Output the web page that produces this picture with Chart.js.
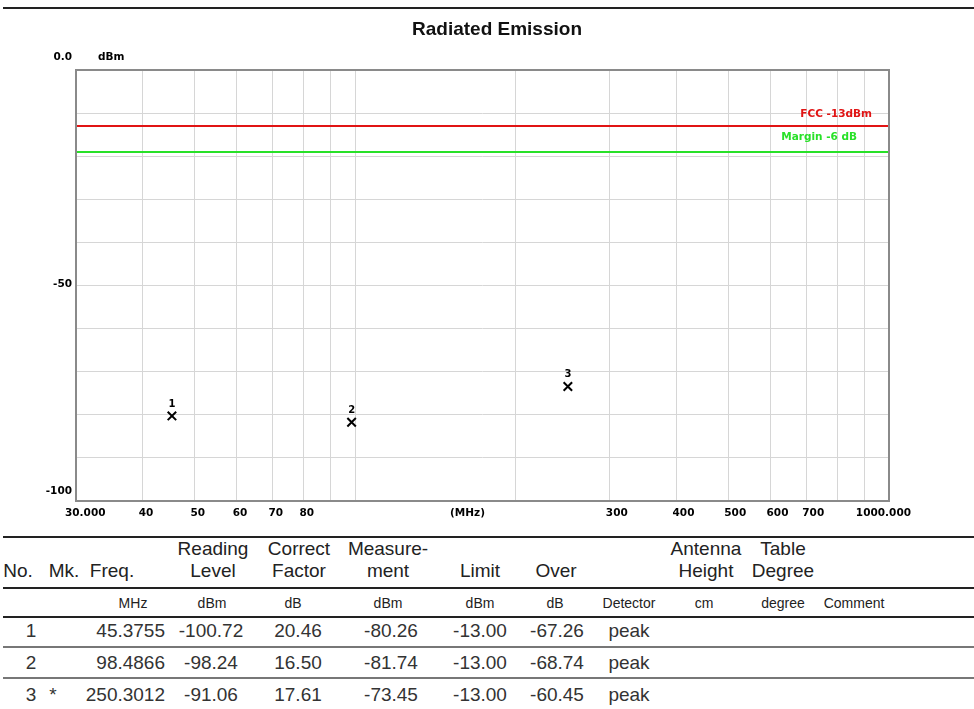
<!DOCTYPE html>
<html>
<head>
<meta charset="utf-8">
<script src="https://cdn.jsdelivr.net/npm/chart.js@4/dist/chart.umd.min.js"></script>
<style>
  body { margin: 0; background: #fff; }
  #page { position: relative; width: 974px; height: 709px; overflow: hidden; font-family: "Liberation Sans", Arial, sans-serif; }
  #topline { position: absolute; left: 3px; top: 7px; width: 971px; height: 2px; background: #222; }
  #myChart { position: absolute; left: 0; top: 0; }
  .rule { position: absolute; left: 3px; width: 971px; height: 2px; }
  .cell { position: absolute; white-space: nowrap; line-height: 22px; height: 22px; }
</style>
</head>
<body>
<div id="page">
  <div id="topline"></div>
  <canvas id="myChart" width="974" height="530"></canvas>
  <div id="table"></div>
</div>
<script>
const TITLE = 'Radiated Emission';

// markers
const markerNo = ['1', '2', '3'];
const markFlag = ['', '', '*'];
const freqs = [45.3755, 98.4866, 250.3012];
const readingLevel = [-100.72, -98.24, -91.06];
const correctFactor = [20.46, 16.50, 17.61];
const measurement = [-80.26, -81.74, -73.45];
const limitValues = [-13.00, -13.00, -13.00];
const overValues = [-67.26, -68.74, -60.45];
const detector = ['peak', 'peak', 'peak'];

// limit lines
const LIMIT = -13;
const MARGIN = -19;
const limitLabel = 'FCC -13dBm';
const marginLabel = 'Margin -6 dB';

// axes
const xGrid = [30, 40, 50, 60, 70, 80, 90, 100, 200, 300, 400, 500, 600, 700, 800, 900, 1000];
const xLabelValues = [30, 40, 50, 60, 70, 80, 300, 400, 500, 600, 700, 1000];
const xLabelTexts = ['30.000', '40', '50', '60', '70', '80', '300', '400', '500', '600', '700', '1000.000'];
const yLabelValues = [0, -50, -100];
const yLabelTexts = ['0.0', '-50', '-100'];

// table
const headers = [['', 'No.'], ['', 'Mk.'], ['', 'Freq.'], ['Reading', 'Level'], ['Correct', 'Factor'],
    ['Measure-', 'ment'], ['', 'Limit'], ['', 'Over'], ['', ''], ['Antenna', 'Height'], ['Table', 'Degree'], ['', '']];
const units = ['', '', 'MHz', 'dBm', 'dB', 'dBm', 'dBm', 'dB', 'Detector', 'cm', 'degree', 'Comment'];

const RED = 'rgb(225, 20, 20)';
const GREEN = 'rgb(40, 225, 40)';
const GRID = '#d6d6d6';
const AXIS_FONT = 'bold 10.5px "DejaVu Sans"';

const labelsPlugin = {
    id: 'labels',
    afterDraw(chart) {
        const c = chart.ctx;
        const a = chart.chartArea;
        const xs = chart.scales.x;
        const ys = chart.scales.y;
        c.save();
        // frame
        c.strokeStyle = '#8a8a8a';
        c.lineWidth = 2;
        c.strokeRect(a.left, a.top, a.right - a.left, a.bottom - a.top);

        // title
        c.fillStyle = '#111';
        c.font = 'bold 19px "Liberation Sans", Arial';
        c.textAlign = 'center';
        c.textBaseline = 'middle';
        c.fillText(TITLE, 497, 30);

        // y labels
        c.font = AXIS_FONT;
        c.fillStyle = '#000';
        c.textAlign = 'right';
        const yOff = [-13, -1, -10];
        yLabelValues.forEach((v, i) => {
            c.fillText(yLabelTexts[i], a.left - 4, ys.getPixelForValue(v) + yOff[i]);
        });
        c.textAlign = 'left';
        c.fillText('dBm', a.left + 22, ys.getPixelForValue(0) - 13);

        // x labels
        const ly = a.bottom + 12;
        xLabelValues.forEach((v, i) => {
            const px = xs.getPixelForValue(v);
            if (i === 0) {
                c.textAlign = 'left';
                c.fillText(xLabelTexts[i], px - 11, ly);
            } else if (i === xLabelValues.length - 1) {
                c.textAlign = 'right';
                c.fillText(xLabelTexts[i], px + 22, ly);
            } else {
                c.textAlign = 'left';
                c.fillText(xLabelTexts[i], px - 4, ly);
            }
        });
        c.textAlign = 'center';
        c.fillText('(MHz)', (a.left + a.right) / 2 - 15, ly);

        // limit labels
        c.textAlign = 'right';
        c.fillStyle = RED;
        c.fillText(limitLabel, a.right - 17, ys.getPixelForValue(LIMIT) - 12);
        c.fillStyle = GREEN;
        c.fillText(marginLabel, a.right - 32, ys.getPixelForValue(MARGIN) - 15);

        // marker numbers
        c.fillStyle = '#000';
        c.textAlign = 'center';
        c.font = 'bold 10px "DejaVu Sans"';
        chart.getDatasetMeta(2).data.forEach((pt, i) => {
            c.fillText(markerNo[i], pt.x, pt.y - 12);
        });
        c.restore();
    }
};

function initChart(ctx) {
    return new Chart(ctx, {
        type: 'scatter',
        data: {
            datasets: [
                {
                    type: 'line',
                    data: [{x: 30, y: LIMIT}, {x: 1000, y: LIMIT}],
                    borderColor: RED,
                    borderWidth: 2,
                    pointRadius: 0
                },
                {
                    type: 'line',
                    data: [{x: 30, y: MARGIN}, {x: 1000, y: MARGIN}],
                    borderColor: GREEN,
                    borderWidth: 2,
                    pointRadius: 0
                },
                {
                    data: freqs.map((f, i) => ({x: f, y: measurement[i]})),
                    pointStyle: 'crossRot',
                    pointRadius: 6,
                    borderColor: '#000',
                    borderWidth: 2
                }
            ]
        },
        options: {
            responsive: false,
            animation: false,
            layout: { padding: { left: 0, right: 85, top: 70, bottom: 0 } },
            plugins: {
                legend: { display: false },
                tooltip: { enabled: false }
            },
            scales: {
                x: {
                    type: 'logarithmic',
                    min: 30,
                    max: 1000,
                    afterBuildTicks: s => { s.ticks = xGrid.map(v => ({ value: v })); },
                    afterFit: s => { s.height = 29; },
                    ticks: { display: false },
                    grid: { color: GRID, drawTicks: false },
                    border: { display: false }
                },
                y: {
                    min: -100,
                    max: 0,
                    ticks: { display: false, stepSize: 10 },
                    afterFit: s => { s.width = 76; },
                    grid: { color: GRID, drawTicks: false },
                    border: { display: false }
                }
            }
        },
        plugins: [labelsPlugin]
    });
}

function buildTable() {
    const table = document.getElementById('table');
    const headerX = [18, 64, 112, 213, 299, 388, 480, 556, 629, 706, 783, 854];
    const unitX = [0, 0, 133, 212, 293, 388, 480, 555, 629, 704, 783, 854];
    const rowY = [631, 663, 695];

    function cell(text, cx, cy, size, color, align) {
        const d = document.createElement('div');
        d.className = 'cell';
        d.textContent = text;
        d.style.fontSize = size + 'px';
        d.style.color = color;
        d.style.top = (cy - 11) + 'px';
        if (align === 'right') {
            d.style.right = (974 - cx) + 'px';
        } else {
            d.style.left = cx + 'px';
            d.style.transform = 'translateX(-50%)';
        }
        table.appendChild(d);
    }
    function rule(y, color) {
        const d = document.createElement('div');
        d.className = 'rule';
        d.style.top = y + 'px';
        d.style.background = color;
        table.appendChild(d);
    }

    rule(536, '#222');
    rule(587, '#222');
    rule(616, '#222');
    rule(646, '#777');
    rule(677, '#777');

    headers.forEach((h, i) => {
        if (h[0]) cell(h[0], headerX[i], 549, 19, '#222');
        if (h[1]) cell(h[1], headerX[i], 571, 19, '#222');
        if (units[i]) cell(units[i], unitX[i], 603, 14, '#222');
    });

    rowY.forEach((y, r) => {
        cell(markerNo[r], 31, y, 19, '#333');
        if (markFlag[r]) cell(markFlag[r], 53, y, 19, '#333');
        cell(freqs[r].toFixed(4), 165, y, 19, '#333', 'right');
        cell(readingLevel[r].toFixed(2), 211, y, 19, '#333');
        cell(correctFactor[r].toFixed(2), 298, y, 19, '#333');
        cell(measurement[r].toFixed(2), 391, y, 19, '#333');
        cell(limitValues[r].toFixed(2), 480, y, 19, '#333');
        cell(overValues[r].toFixed(2), 557, y, 19, '#333');
        cell(detector[r], 629, y, 19, '#333');
    });
}

var ctx = document.getElementById('myChart').getContext('2d');
var chart = initChart(ctx);
buildTable();
</script>
</body>
</html>
